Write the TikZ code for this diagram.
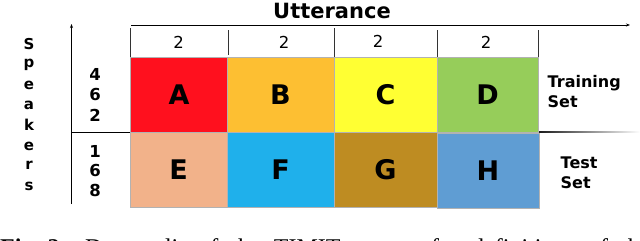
\documentclass[tikz,border=0pt]{standalone}
\usepackage{fontspec}
\setsansfont{DejaVu Sans}
\setmainfont{Liberation Serif}
\usetikzlibrary{arrows.meta}
\definecolor{cA}{HTML}{FF101E}
\definecolor{cB}{HTML}{FDBF32}
\definecolor{cC}{HTML}{FFFF33}
\definecolor{cD}{HTML}{96CD5A}
\definecolor{cE}{HTML}{F2B28A}
\definecolor{cF}{HTML}{1FB0EB}
\definecolor{cG}{HTML}{BE8C22}
\definecolor{cH}{HTML}{5F9DD3}
\tikzset{
  cell/.style={draw=gray!60, line width=0.5pt, inner sep=0pt,
    font=\sffamily\bfseries\fontsize{27}{27}\selectfont},
  hdr/.style={font=\sffamily\fontsize{16.5}{16.5}\selectfont, inner sep=0pt},
  spk/.style={font=\sffamily\bfseries\fontsize{15}{15}\selectfont, inner sep=0pt},
  num/.style={font=\sffamily\bfseries\fontsize{16.5}{16.5}\selectfont, inner sep=0pt},
  setlbl/.style={font=\sffamily\bfseries\fontsize{16}{20}\selectfont, inner sep=0pt, align=left, anchor=west},
  axis/.style={line width=0.8pt, -{Stealth[length=4pt,width=3pt]}},
  tick/.style={line width=0.8pt, black!80},
}
\begin{document}
\begin{tikzpicture}[x=1pt,y=-1pt]
\useasboundingbox (0,0) rectangle (640,241);
\clip (0,0) rectangle (640,241);
% title
\node[font=\sffamily\bfseries\fontsize{21}{21}\selectfont, inner sep=0pt] (utt) at (332,10.5) {Utterance};
% axes
\coordinate (hx0) at (131,25);
\coordinate (hx1) at (630,25);
\draw[axis] (hx0) -- (hx1);
\coordinate (vy0) at (71.5,204);
\coordinate (vy1) at (71.5,24);
\draw[axis] (vy0) -- (vy1);
\coordinate (sd0) at (71.5,132);
\coordinate (sd1) at (130,132);
\draw[line width=0.8pt] (sd0) -- (sd1);
% right divider (fading)
\shade[left color=black!90, right color=white] (538,131.4) rectangle (640,132.6);
% header ticks
\foreach \x/\a/\b in {130/28/57, 228/30/55, 334/28/57, 437/30/57, 538/30/57}
  \draw[tick] (\x,\a) -- (\x,\b);
\node[hdr] (h1) at (178.5,42) {2};
\node[hdr] (h2) at (284,42) {2};
\node[hdr] (h3) at (378,41) {2};
\node[hdr] (h4) at (486,42) {2};
% cells
\node[cell, fill=cA, minimum width=97pt, minimum height=75pt] (A) at (179,94.5) {A};
\node[cell, fill=cB, minimum width=107pt, minimum height=75pt] (B) at (280.5,94.5) {B};
\node[cell, fill=cC, minimum width=103pt, minimum height=75pt] (C) at (385.5,94.5) {C};
\node[cell, fill=cD, minimum width=101pt, minimum height=75pt] (D) at (487.5,94.5) {D};
\node[cell, fill=cE, minimum width=97pt, minimum height=75pt] (E) at (178.5,170) {E};
\node[cell, fill=cF, minimum width=107pt, minimum height=75pt] (F) at (280.5,170) {F};
\node[cell, fill=cG, minimum width=103pt, minimum height=75pt] (G) at (385.5,170) {G};
\node[cell, fill=cH, minimum width=102pt, minimum height=75pt] (H) at (488,170.5) {H};
% speakers
\node[spk] (s1) at (29,44) {S};
\node[spk] (s2) at (29,65) {p};
\node[spk] (s3) at (29,85) {e};
\node[spk] (s4) at (29,105) {a};
\node[spk] (s5) at (29,125) {k};
\node[spk] (s6) at (29,146) {e};
\node[spk] (s7) at (29,165) {r};
\node[spk] (s8) at (29,186) {s};
\node[num] (n1) at (95,74) {4};
\node[num] (n2) at (95,95) {6};
\node[num] (n3) at (95,115) {2};
\node[num] (n4) at (95,151) {1};
\node[num] (n5) at (95,171) {6};
\node[num] (n6) at (95,190) {8};
% set labels
\node[setlbl] (train) at (547.5,92) {Training\\Set};
\node[setlbl] (test) at (560.5,173) {Test\\Set};
% caption (cut off at the bottom edge, as in the reference)
\node[anchor=base west, inner sep=0pt, font=\fontsize{24}{24}\selectfont\bfseries] (fig) at (0,255.5) {Fig. 2:};
\node[anchor=base west, inner sep=0pt, font=\fontsize{24}{24}\selectfont] (cap) at (85,255.5) {\spaceskip=0.55em Data split of the TIMIT corpus for definitions of the};
\end{tikzpicture}
\end{document}
